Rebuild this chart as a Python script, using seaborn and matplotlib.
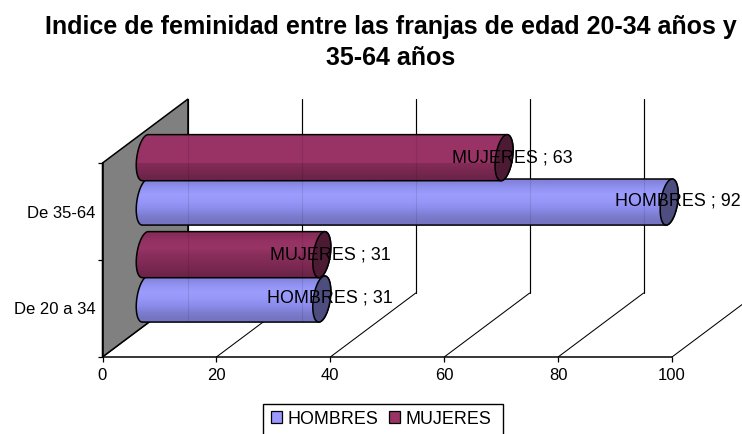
import numpy as np
import pandas as pd
import matplotlib
matplotlib.use("Agg")
import matplotlib.pyplot as plt
from matplotlib.colors import to_rgb
from matplotlib.patches import Patch, Polygon, Rectangle
import seaborn as sns

categorias = ["De 20 a 34", "De 35-64"]
hombres = [31, 92]
mujeres = [31, 63]
series = ["HOMBRES", "MUJERES"]
colores = {"HOMBRES": "#9999FF", "MUJERES": "#993366"}
caps = {"HOMBRES": "#4D4D80", "MUJERES": "#4D1A33"}
stops = {
    "HOMBRES": ["#8383DC", "#9292F2", "#9C9CFC", "#9797FA", "#8C8CEC", "#7E7ED2", "#7474C2"],
    "MUJERES": ["#862D59", "#953264", "#983566", "#8A2E5C", "#822B56", "#782850", "#6E2449"],
}
titulo = "Indice de feminidad entre las franjas de edad 20-34 años y\n35-64 años"
xticks = [0, 20, 40, 60, 80, 100]

sns.set_style("white")
plt.rcParams["font.family"] = ["Liberation Sans", "DejaVu Sans"]
plt.rcParams["text.color"] = "black"
plt.rcParams["xtick.color"] = "black"
plt.rcParams["ytick.color"] = "black"

W, H = 742, 434
fig = plt.figure(figsize=(W / 100, H / 100), dpi=100)
ax = fig.add_axes([102.5 / W, 77 / H, 569.5 / W, 194 / H])

df = pd.DataFrame({
    "franja": categorias * 2,
    "sexo": [series[0]] * 2 + [series[1]] * 2,
    "valor": hombres + mujeres,
})
sns.barplot(data=df, y="franja", x="valor", hue="sexo", orient="h",
            order=categorias, hue_order=series, palette=colores, width=0.95,
            gap=0, saturation=1, legend=False, ax=ax)
bars = list(ax.patches)
ax.set_xlim(0, 100)
ax.set_ylim(-0.5, 1.5)
ax.set_xlabel("")
ax.set_ylabel("")

PX, PY = 100 / 569.5, 1 / 97
DX, DY = 85.5 * PX, 64 * PY
lw = 1.1
nudge = {"HOMBRES": 0.5 * PY, "MUJERES": -1.2 * PY}
label_lift = {"HOMBRES": 1 * PY, "MUJERES": 0.0}

# wall, back gridlines and floor diagonals
ax.add_patch(Polygon([(0, -0.5), (DX, -0.5 + DY), (DX, 1.5 + DY), (0, 1.5)], closed=True,
                     facecolor="#808080", edgecolor="black", lw=lw, clip_on=False, zorder=1))
for v in xticks:
    ax.plot([v, v + DX], [-0.5, -0.5 + DY], color="black", lw=0.75, clip_on=False, zorder=1.5)
    ax.plot([v + DX, v + DX], [-0.5 + DY, 1.5 + DY], color="black", lw=0.85, clip_on=False, zorder=1.5)

# cylinders built on the seaborn bars
a, s = 8.5 * PX, 3 * PX
t_left = np.linspace(np.pi / 2, 3 * np.pi / 2, 40)
t_right = np.linspace(-np.pi / 2, np.pi / 2, 40)
t_full = np.linspace(0, 2 * np.pi, 80)


def ring(xc, yc, b, t):
    return np.column_stack([xc + a * np.cos(t) + s * np.sin(t), yc + b * np.sin(t)])


z = 3.0
for i, p in enumerate(bars):
    name = series[i // 2]
    val = p.get_width()
    y0 = p.get_y() + DY / 2 + nudge[name]
    h = p.get_height()
    yc = y0 + h / 2
    x0 = DX / 2
    x1 = val + DX / 2
    p.set_visible(False)
    outline = np.vstack([ring(x0, yc, h / 2, t_left), ring(x1, yc, h / 2, t_right)])
    body = Polygon(outline, closed=True, facecolor=colores[name], edgecolor="none",
                   clip_on=False, zorder=z)
    ax.add_patch(body)
    grad = np.array([to_rgb(c) for c in stops[name]])[::-1][:, None, :]
    img = ax.imshow(grad, extent=(x0 - a - s, x1 + a + s, y0, y0 + h), origin="lower", aspect="auto",
                    interpolation="bilinear", zorder=z + 0.1)
    img.set_clip_path(body)
    for v in xticks:
        if x0 < v + DX < x1:
            ax.plot([v + DX, v + DX], [y0, y0 + h], color="black", lw=0.8, alpha=0.1,
                    clip_on=False, zorder=z + 0.2)
    ax.add_patch(Polygon(outline, closed=True, facecolor="none", edgecolor="black", lw=lw,
                         clip_on=False, zorder=z + 0.3))
    ax.add_patch(Polygon(ring(x1, yc, h / 2, t_full), closed=True, facecolor=caps[name],
                         edgecolor="black", lw=lw, clip_on=False, zorder=z + 0.4))
    ax.text(x1 + 8.5 * PX, yc + label_lift[name], f"{name} ; {val:.0f}", ha="center", va="center",
            fontsize=12.9, color="black", clip_on=False, zorder=20)
    z += 1
ax.set_xlim(0, 100)
ax.set_ylim(-0.5, 1.5)

for side in ("top", "right"):
    ax.spines[side].set_visible(False)
for side in ("left", "bottom"):
    ax.spines[side].set_color("black")
    ax.spines[side].set_linewidth(lw)
    ax.spines[side].set_zorder(2)

ax.set_xticks(xticks)
ax.set_xticklabels([str(v) for v in xticks], fontsize=12, color="black")
ax.tick_params(axis="x", which="major", bottom=True, length=3.5, width=0.9, color="black", pad=4.2)
ax.set_yticks([-0.5, 0.5, 1.5])
ax.set_yticklabels(["", "", ""])
ax.set_yticks([0, 1], minor=True)
ax.set_yticklabels(categorias, minor=True, fontsize=12, color="black")
ax.tick_params(axis="y", which="major", left=True, length=3.5, width=0.9, color="black")
ax.tick_params(axis="y", which="minor", left=False, length=0, pad=4.8)
ax.grid(False)

fig.text(391 / W, 1 - 42.5 / H, titulo, ha="center", va="center", fontsize=18,
         fontweight="bold", linespacing=1.36, color="black")

fig.add_artist(Rectangle((263 / W, -4 / H), 240 / W, 34 / H, transform=fig.transFigure,
                         facecolor="white", edgecolor="black", lw=1.0))
handles = [Patch(facecolor=colores[n], edgecolor="black", lw=0.9, label=n) for n in series]
leg = fig.legend(handles=handles, loc="center left", bbox_to_anchor=(263 / W, 1 - 419 / H),
                 ncol=2, frameon=False, fontsize=12.9, handlelength=0.62, handleheight=0.62,
                 handletextpad=0.3, columnspacing=0.62, borderpad=0.42, borderaxespad=0,
                 labelcolor="black")
leg.set_zorder(5)

fig.savefig("out.png", dpi=100)
